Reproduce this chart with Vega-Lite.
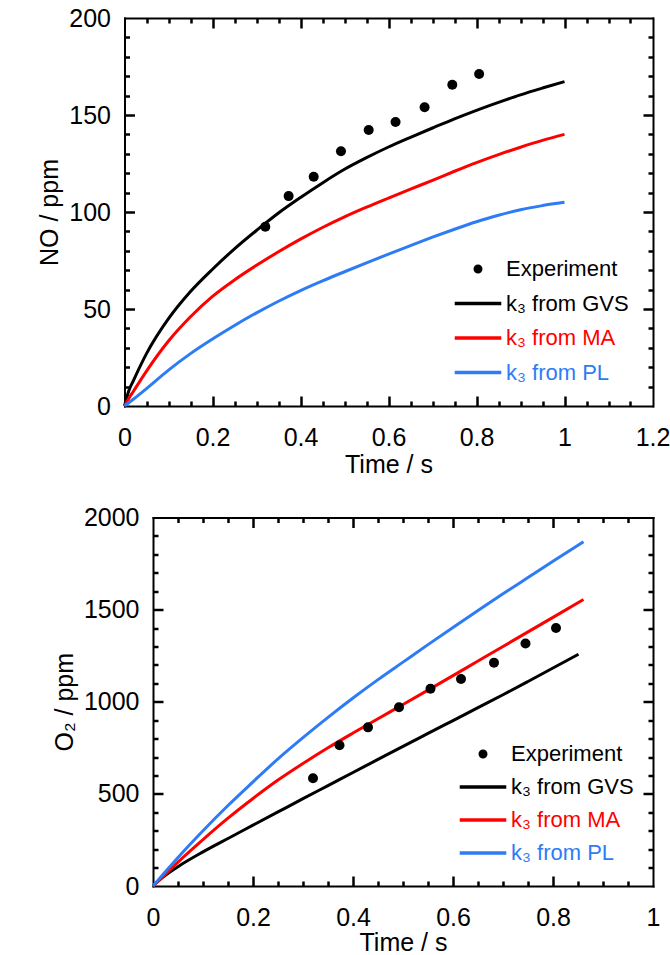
{
  "$schema": "https://vega.github.io/schema/vega-lite/v6.json",
  "padding": {"left": 37, "top": 6, "right": 2, "bottom": 0},
  "bounds": "flush",
  "spacing": 111.5,
  "config": {
    "view": {"stroke": null},
    "font": "Liberation Sans",
    "axis": {
      "labelFont": "Liberation Sans", "titleFont": "Liberation Sans",
      "labelColor": "#000000", "titleColor": "#000000",
      "tickColor": "#000000", "domainColor": "#000000",
      "grid": false, "labelFontSize": 25, "titleFontSize": 25, "titleFontWeight": "normal",
      "tickWidth": 2.5, "domainWidth": 2, "domainCap": "square",
      "minExtent": 0, "maxExtent": 300, "labelFlush": false, "labelOverlap": false
    },
    "legend": {
      "orient": "none", "title": null, "padding": 0,
      "symbolSize": 30, "symbolStrokeWidth": 3.5, "symbolOffset": 14, "labelOffset": 17,
      "labelFontSize": 22, "labelFont": "Liberation Sans", "labelLimit": 300,
      "symbolType": {"expr": "datum.value === 'Experiment' ? 'circle' : 'M-8.5,0L8.5,0'"},
      "symbolFillColor": {"expr": "datum.value === 'Experiment' ? '#000000' : 'transparent'"},
      "labelColor": {"expr": "datum.value === 'k₃ from MA' ? '#ff0000' : datum.value === 'k₃ from PL' ? '#2d7cf6' : '#000000'"}
    }
  },
  "datasets": {
    "no_curves": [
      {"t": 0, "y": 0, "series": "k₃ from GVS"},
      {"t": 0.01, "y": 8, "series": "k₃ from GVS"},
      {"t": 0.02, "y": 13, "series": "k₃ from GVS"},
      {"t": 0.05, "y": 27, "series": "k₃ from GVS"},
      {"t": 0.1, "y": 45, "series": "k₃ from GVS"},
      {"t": 0.15, "y": 59, "series": "k₃ from GVS"},
      {"t": 0.2, "y": 70.5, "series": "k₃ from GVS"},
      {"t": 0.25, "y": 81, "series": "k₃ from GVS"},
      {"t": 0.3, "y": 90.5, "series": "k₃ from GVS"},
      {"t": 0.35, "y": 99.5, "series": "k₃ from GVS"},
      {"t": 0.4, "y": 107.5, "series": "k₃ from GVS"},
      {"t": 0.45, "y": 115, "series": "k₃ from GVS"},
      {"t": 0.5, "y": 122, "series": "k₃ from GVS"},
      {"t": 0.55, "y": 128, "series": "k₃ from GVS"},
      {"t": 0.6, "y": 133.5, "series": "k₃ from GVS"},
      {"t": 0.65, "y": 138.5, "series": "k₃ from GVS"},
      {"t": 0.7, "y": 143.3, "series": "k₃ from GVS"},
      {"t": 0.75, "y": 148, "series": "k₃ from GVS"},
      {"t": 0.8, "y": 152.4, "series": "k₃ from GVS"},
      {"t": 0.85, "y": 156.5, "series": "k₃ from GVS"},
      {"t": 0.9, "y": 160.4, "series": "k₃ from GVS"},
      {"t": 0.95, "y": 163.9, "series": "k₃ from GVS"},
      {"t": 1.0, "y": 167.2, "series": "k₃ from GVS"},
      {"t": 0, "y": 0, "series": "k₃ from MA"},
      {"t": 0.01, "y": 4, "series": "k₃ from MA"},
      {"t": 0.02, "y": 7.5, "series": "k₃ from MA"},
      {"t": 0.05, "y": 18, "series": "k₃ from MA"},
      {"t": 0.1, "y": 33.5, "series": "k₃ from MA"},
      {"t": 0.15, "y": 46, "series": "k₃ from MA"},
      {"t": 0.2, "y": 56.5, "series": "k₃ from MA"},
      {"t": 0.25, "y": 65, "series": "k₃ from MA"},
      {"t": 0.3, "y": 72.5, "series": "k₃ from MA"},
      {"t": 0.35, "y": 79.5, "series": "k₃ from MA"},
      {"t": 0.4, "y": 86, "series": "k₃ from MA"},
      {"t": 0.45, "y": 92, "series": "k₃ from MA"},
      {"t": 0.5, "y": 97.5, "series": "k₃ from MA"},
      {"t": 0.55, "y": 102.5, "series": "k₃ from MA"},
      {"t": 0.6, "y": 107.2, "series": "k₃ from MA"},
      {"t": 0.65, "y": 111.8, "series": "k₃ from MA"},
      {"t": 0.7, "y": 116.3, "series": "k₃ from MA"},
      {"t": 0.75, "y": 121, "series": "k₃ from MA"},
      {"t": 0.8, "y": 125.5, "series": "k₃ from MA"},
      {"t": 0.85, "y": 129.6, "series": "k₃ from MA"},
      {"t": 0.9, "y": 133.4, "series": "k₃ from MA"},
      {"t": 0.95, "y": 136.9, "series": "k₃ from MA"},
      {"t": 1.0, "y": 140, "series": "k₃ from MA"},
      {"t": 0, "y": 0, "series": "k₃ from PL"},
      {"t": 0.02, "y": 3.5, "series": "k₃ from PL"},
      {"t": 0.05, "y": 9, "series": "k₃ from PL"},
      {"t": 0.1, "y": 18.5, "series": "k₃ from PL"},
      {"t": 0.15, "y": 27, "series": "k₃ from PL"},
      {"t": 0.2, "y": 34.5, "series": "k₃ from PL"},
      {"t": 0.25, "y": 41.5, "series": "k₃ from PL"},
      {"t": 0.3, "y": 48, "series": "k₃ from PL"},
      {"t": 0.35, "y": 54, "series": "k₃ from PL"},
      {"t": 0.4, "y": 59.5, "series": "k₃ from PL"},
      {"t": 0.45, "y": 64.5, "series": "k₃ from PL"},
      {"t": 0.5, "y": 69.2, "series": "k₃ from PL"},
      {"t": 0.55, "y": 73.8, "series": "k₃ from PL"},
      {"t": 0.6, "y": 78.3, "series": "k₃ from PL"},
      {"t": 0.65, "y": 82.7, "series": "k₃ from PL"},
      {"t": 0.7, "y": 87, "series": "k₃ from PL"},
      {"t": 0.75, "y": 91.1, "series": "k₃ from PL"},
      {"t": 0.8, "y": 95, "series": "k₃ from PL"},
      {"t": 0.85, "y": 98.3, "series": "k₃ from PL"},
      {"t": 0.9, "y": 101.2, "series": "k₃ from PL"},
      {"t": 0.95, "y": 103.3, "series": "k₃ from PL"},
      {"t": 1.0, "y": 105, "series": "k₃ from PL"}
    ],
    "no_exp": [
      {"t": 0.32, "y": 92.4, "series": "Experiment"},
      {"t": 0.373, "y": 108.2, "series": "Experiment"},
      {"t": 0.43, "y": 118.2, "series": "Experiment"},
      {"t": 0.492, "y": 131.3, "series": "Experiment"},
      {"t": 0.555, "y": 142.3, "series": "Experiment"},
      {"t": 0.616, "y": 146.4, "series": "Experiment"},
      {"t": 0.682, "y": 154, "series": "Experiment"},
      {"t": 0.745, "y": 165.6, "series": "Experiment"},
      {"t": 0.806, "y": 171.1, "series": "Experiment"}
    ],
    "o2_curves": [
      {"t": 0, "y": 0, "series": "k₃ from GVS"},
      {"t": 0.01, "y": 25, "series": "k₃ from GVS"},
      {"t": 0.02, "y": 48, "series": "k₃ from GVS"},
      {"t": 0.05, "y": 105, "series": "k₃ from GVS"},
      {"t": 0.1, "y": 185, "series": "k₃ from GVS"},
      {"t": 0.15, "y": 258, "series": "k₃ from GVS"},
      {"t": 0.2, "y": 330, "series": "k₃ from GVS"},
      {"t": 0.25, "y": 402, "series": "k₃ from GVS"},
      {"t": 0.3, "y": 474, "series": "k₃ from GVS"},
      {"t": 0.35, "y": 545, "series": "k₃ from GVS"},
      {"t": 0.4, "y": 616, "series": "k₃ from GVS"},
      {"t": 0.45, "y": 687, "series": "k₃ from GVS"},
      {"t": 0.5, "y": 758, "series": "k₃ from GVS"},
      {"t": 0.55, "y": 828, "series": "k₃ from GVS"},
      {"t": 0.6, "y": 898, "series": "k₃ from GVS"},
      {"t": 0.65, "y": 968, "series": "k₃ from GVS"},
      {"t": 0.7, "y": 1038, "series": "k₃ from GVS"},
      {"t": 0.75, "y": 1110, "series": "k₃ from GVS"},
      {"t": 0.8, "y": 1183, "series": "k₃ from GVS"},
      {"t": 0.851, "y": 1258, "series": "k₃ from GVS"},
      {"t": 0, "y": 0, "series": "k₃ from MA"},
      {"t": 0.02, "y": 52, "series": "k₃ from MA"},
      {"t": 0.05, "y": 130, "series": "k₃ from MA"},
      {"t": 0.1, "y": 252, "series": "k₃ from MA"},
      {"t": 0.15, "y": 368, "series": "k₃ from MA"},
      {"t": 0.2, "y": 475, "series": "k₃ from MA"},
      {"t": 0.25, "y": 575, "series": "k₃ from MA"},
      {"t": 0.3, "y": 665, "series": "k₃ from MA"},
      {"t": 0.35, "y": 750, "series": "k₃ from MA"},
      {"t": 0.4, "y": 830, "series": "k₃ from MA"},
      {"t": 0.45, "y": 908, "series": "k₃ from MA"},
      {"t": 0.5, "y": 985, "series": "k₃ from MA"},
      {"t": 0.55, "y": 1063, "series": "k₃ from MA"},
      {"t": 0.6, "y": 1142, "series": "k₃ from MA"},
      {"t": 0.65, "y": 1221, "series": "k₃ from MA"},
      {"t": 0.7, "y": 1300, "series": "k₃ from MA"},
      {"t": 0.75, "y": 1379, "series": "k₃ from MA"},
      {"t": 0.8, "y": 1458, "series": "k₃ from MA"},
      {"t": 0.861, "y": 1555, "series": "k₃ from MA"},
      {"t": 0, "y": 0, "series": "k₃ from PL"},
      {"t": 0.02, "y": 62, "series": "k₃ from PL"},
      {"t": 0.05, "y": 155, "series": "k₃ from PL"},
      {"t": 0.1, "y": 300, "series": "k₃ from PL"},
      {"t": 0.15, "y": 437, "series": "k₃ from PL"},
      {"t": 0.2, "y": 565, "series": "k₃ from PL"},
      {"t": 0.25, "y": 690, "series": "k₃ from PL"},
      {"t": 0.3, "y": 805, "series": "k₃ from PL"},
      {"t": 0.35, "y": 915, "series": "k₃ from PL"},
      {"t": 0.4, "y": 1020, "series": "k₃ from PL"},
      {"t": 0.45, "y": 1120, "series": "k₃ from PL"},
      {"t": 0.5, "y": 1215, "series": "k₃ from PL"},
      {"t": 0.55, "y": 1310, "series": "k₃ from PL"},
      {"t": 0.6, "y": 1403, "series": "k₃ from PL"},
      {"t": 0.65, "y": 1495, "series": "k₃ from PL"},
      {"t": 0.7, "y": 1586, "series": "k₃ from PL"},
      {"t": 0.75, "y": 1674, "series": "k₃ from PL"},
      {"t": 0.8, "y": 1762, "series": "k₃ from PL"},
      {"t": 0.861, "y": 1869, "series": "k₃ from PL"}
    ],
    "o2_exp": [
      {"t": 0.32, "y": 585, "series": "Experiment"},
      {"t": 0.373, "y": 764, "series": "Experiment"},
      {"t": 0.43, "y": 861, "series": "Experiment"},
      {"t": 0.492, "y": 970, "series": "Experiment"},
      {"t": 0.555, "y": 1071, "series": "Experiment"},
      {"t": 0.616, "y": 1123, "series": "Experiment"},
      {"t": 0.682, "y": 1212, "series": "Experiment"},
      {"t": 0.745, "y": 1316, "series": "Experiment"},
      {"t": 0.806, "y": 1400, "series": "Experiment"}
    ]
  },
  "resolve": {"scale": {"color": "independent"}, "legend": {"color": "independent"}},
  "vconcat": [
    {
      "width": 500,
      "height": 388,
      "resolve": {"axis": {"x": "independent", "y": "independent"}},
      "layer": [
        {
          "data": {"name": "no_curves"},
          "mark": {"type": "line", "strokeWidth": 3, "clip": false, "interpolate": "monotone"},
          "encoding": {
            "x": {"field": "t", "type": "quantitative",
              "scale": {"domain": [0, 1.2], "range": [-28.5, 499.5], "nice": false},
              "axis": {"orient": "bottom", "values": [0, 0.2, 0.4, 0.6, 0.8, 1, 1.2], "format": "~g", "ticks": false, "labelPadding": 19, "title": "Time / s", "titlePadding": 2}},
            "y": {"field": "y", "type": "quantitative",
              "scale": {"domain": [0, 200], "nice": false},
              "axis": {"orient": "left", "offset": 28.5, "values": [0, 50, 100, 150, 200], "format": "d", "ticks": false, "labelPadding": 14, "title": "NO / ppm", "titlePadding": 6}},
            "color": {"field": "series", "type": "nominal",
              "scale": {"domain": ["Experiment", "k₃ from GVS", "k₃ from MA", "k₃ from PL"], "range": ["#000000", "#000000", "#ff0000", "#2d7cf6"]},
              "legend": {"legendX": 300, "legendY": 240, "rowPadding": 12.5}
            }
          }
        },
        {
          "data": {"name": "no_exp"},
          "mark": {"type": "point", "filled": true, "size": 100, "opacity": 1},
          "encoding": {
            "x": {"field": "t", "type": "quantitative",
              "axis": {"orient": "top", "values": [0, 0.6, 1.2], "ticks": false, "labels": false, "title": null}},
            "y": {"field": "y", "type": "quantitative",
              "axis": {"orient": "right", "values": [0, 100, 200], "ticks": false, "labels": false, "title": null}},
            "color": {"field": "series", "type": "nominal"}
          }
        },
        {
          "data": {"name": "no_exp"},
          "mark": {"type": "point", "opacity": 0},
          "encoding": {
            "x": {"field": "t", "type": "quantitative",
              "axis": {"orient": "bottom", "offset": -10, "values": [0.2, 0.4, 0.6, 0.8, 1], "tickSize": 10, "tickColor": "#000000", "tickWidth": 2.5, "labels": false, "domain": false, "title": null}},
            "y": {"field": "y", "type": "quantitative", "axis": null}
          }
        },
        {
          "data": {"name": "no_exp"},
          "mark": {"type": "point", "opacity": 0},
          "encoding": {
            "x": {"field": "t", "type": "quantitative",
              "axis": {"orient": "top", "offset": -10, "values": [0.2, 0.4, 0.6, 0.8, 1], "tickSize": 10, "tickColor": "#000000", "tickWidth": 2.5, "labels": false, "domain": false, "title": null}},
            "y": {"field": "y", "type": "quantitative", "axis": null}
          }
        },
        {
          "data": {"name": "no_exp"},
          "mark": {"type": "point", "opacity": 0},
          "encoding": {
            "x": {"field": "t", "type": "quantitative",
              "axis": {"orient": "bottom", "offset": -5, "values": [0.05, 0.1, 0.15, 0.25, 0.3, 0.35, 0.45, 0.5, 0.55, 0.65, 0.7, 0.75, 0.85, 0.9, 0.95, 1.05, 1.1, 1.15], "tickSize": 5, "tickColor": "#000000", "tickWidth": 2.5, "labels": false, "domain": false, "title": null}},
            "y": {"field": "y", "type": "quantitative", "axis": null}
          }
        },
        {
          "data": {"name": "no_exp"},
          "mark": {"type": "point", "opacity": 0},
          "encoding": {
            "x": {"field": "t", "type": "quantitative",
              "axis": {"orient": "top", "offset": -5, "values": [0.05, 0.1, 0.15, 0.25, 0.3, 0.35, 0.45, 0.5, 0.55, 0.65, 0.7, 0.75, 0.85, 0.9, 0.95, 1.05, 1.1, 1.15], "tickSize": 5, "tickColor": "#000000", "tickWidth": 2.5, "labels": false, "domain": false, "title": null}},
            "y": {"field": "y", "type": "quantitative", "axis": null}
          }
        },
        {
          "data": {"name": "no_exp"},
          "mark": {"type": "point", "opacity": 0},
          "encoding": {
            "x": {"field": "t", "type": "quantitative", "axis": null},
            "y": {"field": "y", "type": "quantitative",
              "axis": {"orient": "left", "offset": 18.5, "values": [50, 100, 150], "tickSize": 10, "tickColor": "#000000", "tickWidth": 2.5, "labels": false, "domain": false, "title": null}}
          }
        },
        {
          "data": {"name": "no_exp"},
          "mark": {"type": "point", "opacity": 0},
          "encoding": {
            "x": {"field": "t", "type": "quantitative", "axis": null},
            "y": {"field": "y", "type": "quantitative",
              "axis": {"orient": "right", "offset": -10, "values": [50, 100, 150], "tickSize": 10, "tickColor": "#000000", "tickWidth": 2.5, "labels": false, "domain": false, "title": null}}
          }
        },
        {
          "data": {"name": "no_exp"},
          "mark": {"type": "point", "opacity": 0},
          "encoding": {
            "x": {"field": "t", "type": "quantitative", "axis": null},
            "y": {"field": "y", "type": "quantitative",
              "axis": {"orient": "left", "offset": 23.5, "values": [10, 20, 30, 40, 60, 70, 80, 90, 110, 120, 130, 140, 160, 170, 180, 190], "tickSize": 5, "tickColor": "#000000", "tickWidth": 2.5, "labels": false, "domain": false, "title": null}}
          }
        },
        {
          "data": {"name": "no_exp"},
          "mark": {"type": "point", "opacity": 0},
          "encoding": {
            "x": {"field": "t", "type": "quantitative", "axis": null},
            "y": {"field": "y", "type": "quantitative",
              "axis": {"orient": "right", "offset": -5, "values": [10, 20, 30, 40, 60, 70, 80, 90, 110, 120, 130, 140, 160, 170, 180, 190], "tickSize": 5, "tickColor": "#000000", "tickWidth": 2.5, "labels": false, "domain": false, "title": null}}
          }
        }
      ]
    },
    {
      "width": 500,
      "height": 368.5,
      "resolve": {"axis": {"x": "independent", "y": "independent"}},
      "layer": [
        {
          "data": {"name": "o2_curves"},
          "mark": {"type": "line", "strokeWidth": 3, "clip": false, "interpolate": "monotone"},
          "encoding": {
            "x": {"field": "t", "type": "quantitative",
              "scale": {"domain": [0, 1], "nice": false},
              "axis": {"orient": "bottom", "values": [0, 0.2, 0.4, 0.6, 0.8, 1], "format": "~g", "ticks": false, "labelPadding": 19, "title": "Time / s", "titlePadding": 0}},
            "y": {"field": "y", "type": "quantitative",
              "scale": {"domain": [0, 2000], "nice": false},
              "axis": {"orient": "left", "values": [0, 500, 1000, 1500, 2000], "format": "d", "ticks": false, "labelPadding": 14, "title": "O₂ / ppm", "titlePadding": 6}},
            "color": {"field": "series", "type": "nominal",
              "scale": {"domain": ["Experiment", "k₃ from GVS", "k₃ from MA", "k₃ from PL"], "range": ["#000000", "#000000", "#ff0000", "#2d7cf6"]},
              "legend": {"legendX": 305, "legendY": 225.5, "rowPadding": 11}
            }
          }
        },
        {
          "data": {"name": "o2_exp"},
          "mark": {"type": "point", "filled": true, "size": 100, "opacity": 1},
          "encoding": {
            "x": {"field": "t", "type": "quantitative",
              "axis": {"orient": "top", "values": [0, 0.5, 1], "ticks": false, "labels": false, "title": null}},
            "y": {"field": "y", "type": "quantitative",
              "axis": {"orient": "right", "values": [0, 1000, 2000], "ticks": false, "labels": false, "title": null}},
            "color": {"field": "series", "type": "nominal"}
          }
        },
        {
          "data": {"name": "o2_exp"},
          "mark": {"type": "point", "opacity": 0},
          "encoding": {
            "x": {"field": "t", "type": "quantitative",
              "axis": {"orient": "bottom", "offset": -10, "values": [0.2, 0.4, 0.6, 0.8], "tickSize": 10, "tickColor": "#000000", "tickWidth": 2.5, "labels": false, "domain": false, "title": null}},
            "y": {"field": "y", "type": "quantitative", "axis": null}
          }
        },
        {
          "data": {"name": "o2_exp"},
          "mark": {"type": "point", "opacity": 0},
          "encoding": {
            "x": {"field": "t", "type": "quantitative",
              "axis": {"orient": "top", "offset": -10, "values": [0.2, 0.4, 0.6, 0.8], "tickSize": 10, "tickColor": "#000000", "tickWidth": 2.5, "labels": false, "domain": false, "title": null}},
            "y": {"field": "y", "type": "quantitative", "axis": null}
          }
        },
        {
          "data": {"name": "o2_exp"},
          "mark": {"type": "point", "opacity": 0},
          "encoding": {
            "x": {"field": "t", "type": "quantitative",
              "axis": {"orient": "bottom", "offset": -5, "values": [0.05, 0.1, 0.15, 0.25, 0.3, 0.35, 0.45, 0.5, 0.55, 0.65, 0.7, 0.75, 0.85, 0.9, 0.95], "tickSize": 5, "tickColor": "#000000", "tickWidth": 2.5, "labels": false, "domain": false, "title": null}},
            "y": {"field": "y", "type": "quantitative", "axis": null}
          }
        },
        {
          "data": {"name": "o2_exp"},
          "mark": {"type": "point", "opacity": 0},
          "encoding": {
            "x": {"field": "t", "type": "quantitative",
              "axis": {"orient": "top", "offset": -5, "values": [0.05, 0.1, 0.15, 0.25, 0.3, 0.35, 0.45, 0.5, 0.55, 0.65, 0.7, 0.75, 0.85, 0.9, 0.95], "tickSize": 5, "tickColor": "#000000", "tickWidth": 2.5, "labels": false, "domain": false, "title": null}},
            "y": {"field": "y", "type": "quantitative", "axis": null}
          }
        },
        {
          "data": {"name": "o2_exp"},
          "mark": {"type": "point", "opacity": 0},
          "encoding": {
            "x": {"field": "t", "type": "quantitative", "axis": null},
            "y": {"field": "y", "type": "quantitative",
              "axis": {"orient": "left", "offset": -10, "values": [500, 1000, 1500], "tickSize": 10, "tickColor": "#000000", "tickWidth": 2.5, "labels": false, "domain": false, "title": null}}
          }
        },
        {
          "data": {"name": "o2_exp"},
          "mark": {"type": "point", "opacity": 0},
          "encoding": {
            "x": {"field": "t", "type": "quantitative", "axis": null},
            "y": {"field": "y", "type": "quantitative",
              "axis": {"orient": "right", "offset": -10, "values": [500, 1000, 1500], "tickSize": 10, "tickColor": "#000000", "tickWidth": 2.5, "labels": false, "domain": false, "title": null}}
          }
        },
        {
          "data": {"name": "o2_exp"},
          "mark": {"type": "point", "opacity": 0},
          "encoding": {
            "x": {"field": "t", "type": "quantitative", "axis": null},
            "y": {"field": "y", "type": "quantitative",
              "axis": {"orient": "left", "offset": -5, "values": [100, 200, 300, 400, 600, 700, 800, 900, 1100, 1200, 1300, 1400, 1600, 1700, 1800, 1900], "tickSize": 5, "tickColor": "#000000", "tickWidth": 2.5, "labels": false, "domain": false, "title": null}}
          }
        },
        {
          "data": {"name": "o2_exp"},
          "mark": {"type": "point", "opacity": 0},
          "encoding": {
            "x": {"field": "t", "type": "quantitative", "axis": null},
            "y": {"field": "y", "type": "quantitative",
              "axis": {"orient": "right", "offset": -5, "values": [100, 200, 300, 400, 600, 700, 800, 900, 1100, 1200, 1300, 1400, 1600, 1700, 1800, 1900], "tickSize": 5, "tickColor": "#000000", "tickWidth": 2.5, "labels": false, "domain": false, "title": null}}
          }
        }
      ]
    }
  ]
}
